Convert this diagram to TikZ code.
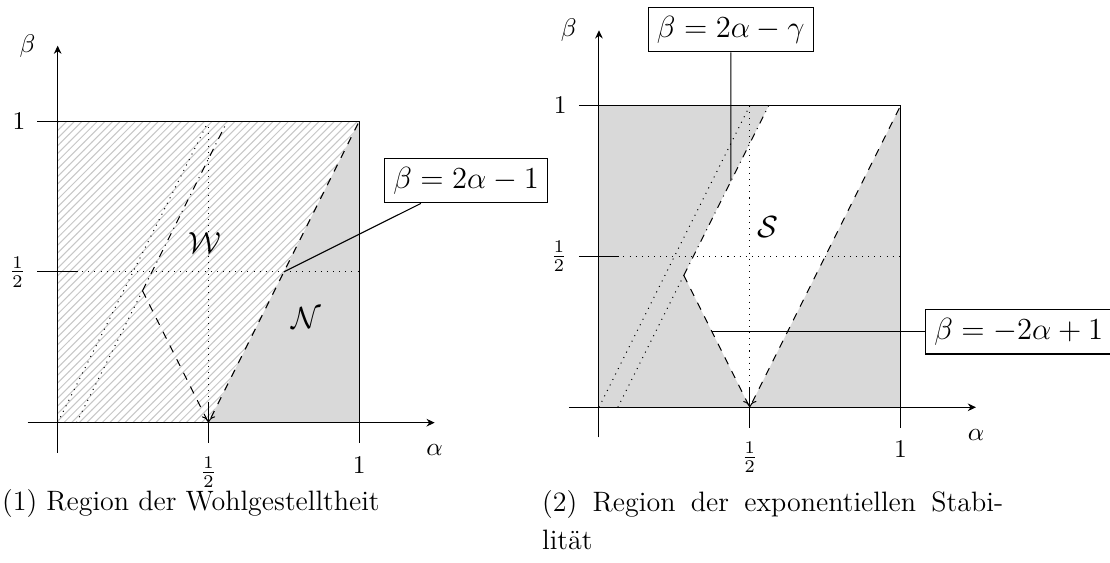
\documentclass[tikz,border=0pt]{standalone}
\usepackage{amsmath}
\usetikzlibrary{patterns,arrows.meta}
\tikzset{
  axis/.style={-{Stealth[length=3.2pt,width=3pt]}, line width=0.4pt},
  gridline/.style={dotted, line width=0.4pt},
  hatched/.style={pattern=north east lines, pattern color=black!22},
  shaded/.style={fill=black!15},
  eqbox/.style={draw, fill=white, font=\large},
  regionlabel/.style={font=\large},
  caption/.style={inner sep=0pt, font=\fontsize{11}{15}\selectfont},
}

\begin{document}
\begin{tikzpicture}
\useasboundingbox (0,0) rectangle (15.30,7.760);
% left panel
\begin{scope}[shift={(0.795cm,1.934cm)}, x=4.157cm, y=4.157cm]
\fill[hatched] (0,0) -- (0.5,0) -- (1,1) -- (0,1) -- cycle;
\fill[shaded] (0.5,0) -- (1,0) -- (1,1) -- cycle;
\draw[gridline] (0,0.5) -- (1,0.5);
\draw[gridline, ->] (0.5,1) -- (0.5,0);
\draw[dotted] (0,0) -- (0.5,1);
\draw[dotted] (0.0625,0) -- (0.28125,0.4375);
\draw[dashdotted] (0.28125,0.4375) -- (0.5625,1);
\draw[dashed] (0.28125,0.4375) -- (0.5,0) -- (1,1);
\draw (-0.067,1) -- (1,1) -- (1,-0.067);
\draw (-0.067,0.5) -- (0.067,0.5);
\draw (0.5,-0.067) -- (0.5,0.067);
\draw[axis] (-0.1,0) -- (1.25,0);
\draw[axis] (0,-0.1) -- (0,1.25);
\node (alphaone) at (1.25,-0.092) {$\alpha$};
\node (betaone) at (-0.1,1.25) {$\beta$};
\node (onehalfx) at (0.5,-0.165) {$\frac{1}{2}$};
\node (onex) at (1,-0.14) {$1$};
\node (onehalfy) at (-0.133,0.5) {$\frac{1}{2}$};
\node (oney) at (-0.128,1) {$1$};
\node[regionlabel] (wlabel) at (0.488,0.596) {$\mathcal{W}$};
\node[regionlabel] (nlabel) at (0.826,0.346) {$\mathcal{N}$};
\coordinate (crossone) at (0.75,0.5);
\node[eqbox] (eqone) at (1.354,0.802) {$\beta = 2\alpha - 1$};
\draw (crossone) -- (eqone);
\end{scope}
% right panel
\begin{scope}[shift={(8.256cm,2.146cm)}, x=4.157cm, y=4.157cm]
\fill[shaded] (0,0) -- (0.5,0) -- (0.28125,0.4375) -- (0.5625,1) -- (0,1) -- cycle;
\fill[shaded] (0.5,0) -- (1,0) -- (1,1) -- cycle;
\draw[gridline] (0,0.5) -- (1,0.5);
\draw[gridline, ->] (0.5,1) -- (0.5,0);
\draw[dotted] (0,0) -- (0.5,1);
\draw[dotted] (0.0625,0) -- (0.28125,0.4375);
\draw[dashdotted] (0.28125,0.4375) -- (0.5625,1);
\draw[dashed] (0.28125,0.4375) -- (0.5,0) -- (1,1);
\draw (-0.067,1) -- (1,1) -- (1,-0.067);
\draw (-0.067,0.5) -- (0.067,0.5);
\draw (0.5,-0.067) -- (0.5,0.067);
\draw[axis] (-0.1,0) -- (1.25,0);
\draw[axis] (0,-0.1) -- (0,1.25);
\node (alphatwo) at (1.25,-0.092) {$\alpha$};
\node (betatwo) at (-0.1,1.25) {$\beta$};
\node (halfxtwo) at (0.5,-0.165) {$\frac{1}{2}$};
\node (onextwo) at (1,-0.14) {$1$};
\node (halfytwo) at (-0.133,0.5) {$\frac{1}{2}$};
\node (oneytwo) at (-0.128,1) {$1$};
\node[regionlabel] (slabel) at (0.561,0.599) {$\mathcal{S}$};
\coordinate (gammapt) at (0.4375,0.75);
\coordinate (vpt) at (0.375,0.25);
\node[eqbox] (eqtwo) at (0.437,1.252) {$\beta = 2\alpha - \gamma$};
\node[eqbox] (eqthree) at (1.392,0.25) {$\beta = -2\alpha + 1$};
\draw (gammapt) -- (eqtwo);
\draw (vpt) -- (eqthree);
\end{scope}
% captions
\node[caption, anchor=base west] (capone) at (0.023,0.717) {(1) Region der Wohlgestelltheit};
\node[caption, anchor=north west, text width=6.354cm, align=justify] (captwo) at (7.467,1.009) {(2) Region der exponentiellen Stabi-\linebreak lität};
\end{tikzpicture}
\end{document}
